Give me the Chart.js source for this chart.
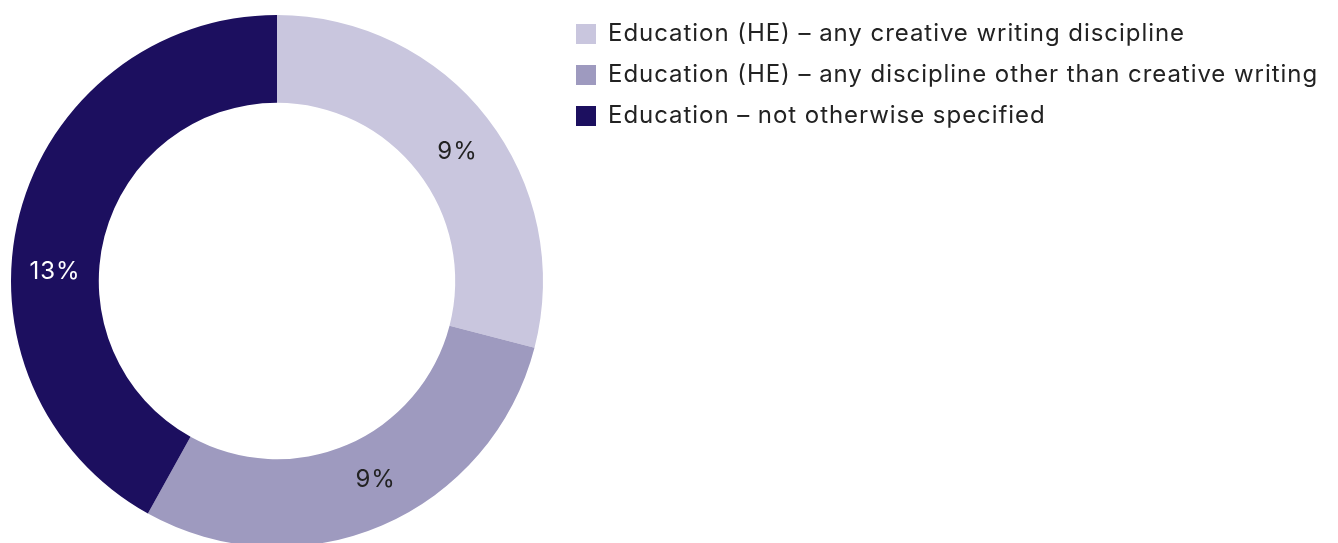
<!DOCTYPE html>
<html>
<head>
<meta charset="utf-8">
<script src="https://cdn.jsdelivr.net/npm/chart.js@4"></script>
<style>
    html, body { margin: 0; padding: 0; background: #fff; overflow: hidden; }
    #wrap { position: absolute; left: 0; top: 0; width: 1338px; height: 562px; }
</style>
</head>
<body>
<div id="wrap"><canvas id="eduDoughnut"></canvas></div>
<script>
const labels = [
    'Education (HE) \u2013 any creative writing discipline',
    'Education (HE) \u2013 any discipline other than creative writing',
    'Education \u2013 not otherwise specified'
];
const shares = [9, 9, 13];
const shareLabels = ['9%', '9%', '13%'];

const COLORS = ['#c9c6de', '#9e9abf', '#1c0f5f'];
const LABEL_COLORS = ['#222222', '#222222', '#ffffff'];
// where along each arc the percentage sits (0 = start, 1 = end)
const LABEL_ALONG = [0.52, 0.47, 0.42];
const FONT = 'Inter, "Noto Sans", sans-serif';

const legendWidth = 1338 - 554;

const config = {
    type: 'doughnut',
    data: {
        labels: labels,
        datasets: [{
            data: shares,
            backgroundColor: COLORS,
            borderWidth: 0
        }]
    },
    options: {
        responsive: true,
        maintainAspectRatio: false,
        animation: false,
        cutout: '67%',
        layout: { padding: { top: 15, bottom: 15, left: 0, right: 0 } },
        plugins: {
            legend: {
                position: 'right',
                align: 'start',
                labels: {
                    boxWidth: 20,
                    boxHeight: 20,
                    padding: 17,
                    color: '#222222',
                    font: { family: FONT, size: 24 }
                }
            },
            tooltip: { enabled: false }
        }
    },
    plugins: [{
        id: 'legendWidth',
        beforeLayout(chart) {
            const legend = chart.legend;
            if (!legend || legend._patched) return;
            const origFit = legend.fit;
            legend.fit = function () {
                origFit.call(this);
                this.width = legendWidth;
            };
            legend._patched = true;
        },
        afterLayout(chart) {
            // legend sits a little higher and further right than the layout gives
            chart.legend.top -= 10;
            chart.legend.left += 5;
        },
        beforeDraw(chart) {
            chart.ctx.letterSpacing = '0.95px';
        },
        afterDraw(chart) {
            chart.ctx.letterSpacing = '0px';
        }
    }, {
        id: 'arcLabels',
        afterDatasetsDraw(chart) {
            const { ctx } = chart;
            const meta = chart.getDatasetMeta(0);
            ctx.save();
            ctx.font = '24px ' + FONT;
            ctx.textAlign = 'center';
            ctx.textBaseline = 'middle';
            meta.data.forEach((arc, i) => {
                const t = LABEL_ALONG[i];
                const angle = arc.startAngle + (arc.endAngle - arc.startAngle) * t;
                const radius = (arc.outerRadius + arc.innerRadius) / 2;
                ctx.fillStyle = LABEL_COLORS[i];
                ctx.fillText(shareLabels[i], arc.x + Math.cos(angle) * radius, arc.y + Math.sin(angle) * radius);
            });
            ctx.restore();
        }
    }]
};

new Chart(document.getElementById('eduDoughnut').getContext('2d'), config);
</script>
</body>
</html>
